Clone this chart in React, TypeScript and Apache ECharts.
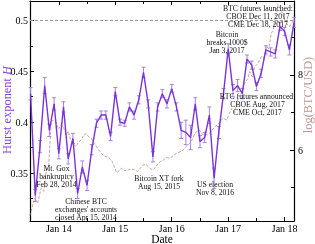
import React, { useEffect, useRef } from "react";
import * as echarts from "echarts";

// Hurst exponent, monthly from Jul 2013 to Mar 2018
const hurstStart = [2013, 7];
const hurstValues = [
  0.428, 0.328, 0.376, 0.436, 0.392, 0.418, 0.369, 0.415, 0.364, 0.384,
  0.330, 0.356, 0.338, 0.373, 0.399, 0.407, 0.407, 0.386, 0.430, 0.400,
  0.399, 0.415, 0.407, 0.422, 0.449, 0.418, 0.366, 0.415, 0.428, 0.418,
  0.433, 0.415, 0.392, 0.390, 0.385, 0.418, 0.381, 0.385, 0.407, 0.345,
  0.390, 0.428, 0.472, 0.431, 0.436, 0.428, 0.462, 0.456, 0.435, 0.448,
  0.471, 0.469, 0.467, 0.494, 0.489, 0.471, 0.498,
];
const hurstErr = [
  0.006, 0.006, 0.006, 0.008, 0.006, 0.006, 0.005, 0.005, 0.005, 0.005,
  0.005, 0.006, 0.005, 0.005, 0.004, 0.004, 0.004, 0.004, 0.004, 0.003,
  0.003, 0.004, 0.004, 0.004, 0.005, 0.004, 0.005, 0.004, 0.004, 0.004,
  0.004, 0.004, 0.008, 0.012, 0.012, 0.006, 0.006, 0.005, 0.008, 0.010,
  0.006, 0.005, 0.005, 0.006, 0.006, 0.005, 0.004, 0.004, 0.004, 0.004,
  0.004, 0.004, 0.004, 0.004, 0.004, 0.005, 0.005,
];

// log(BTC/USD) (decimal year, value)
const btcTime = [
  2013.487, 2013.570, 2013.628, 2013.687, 2013.735, 2013.775, 2013.823, 2013.864, 2013.894, 2013.952,
  2013.991, 2014.041, 2014.080, 2014.129, 2014.168, 2014.218, 2014.265, 2014.306, 2014.345, 2014.395,
  2014.442, 2014.483, 2014.531, 2014.579, 2014.619, 2014.667, 2014.708, 2014.756, 2014.796, 2014.844,
  2014.885, 2014.933, 2014.973, 2015.021, 2015.050, 2015.110, 2015.168, 2015.227, 2015.283, 2015.345,
  2015.398, 2015.434, 2015.492, 2015.540, 2015.581, 2015.628, 2015.669, 2015.717, 2015.758, 2015.805,
  2015.846, 2015.903, 2015.965, 2016.027, 2016.083, 2016.142, 2016.200, 2016.257, 2016.319, 2016.372,
  2016.407, 2016.451, 2016.496, 2016.540, 2016.584, 2016.637, 2016.673, 2016.761, 2016.832, 2016.908,
  2016.973, 2017.057, 2017.115, 2017.173, 2017.230, 2017.292, 2017.345, 2017.381, 2017.425, 2017.469,
  2017.522, 2017.588, 2017.628, 2017.676, 2017.717, 2017.765, 2017.796, 2017.823, 2017.858, 2017.881,
  2017.912, 2017.942, 2017.970, 2018.000, 2018.044, 2018.088, 2018.133, 2018.159,
];
const btcLog = [
  4.25, 4.71, 4.60, 4.98, 4.90, 5.42, 5.60, 6.75, 6.80, 6.75,
  6.55, 6.67, 6.62, 6.40, 6.50, 6.22, 6.15, 6.09, 6.20, 6.27,
  6.40, 6.44, 6.35, 6.31, 6.20, 6.09, 6.00, 5.91, 5.85, 5.82,
  5.80, 5.73, 5.60, 5.40, 5.42, 5.52, 5.45, 5.47, 5.50, 5.47,
  5.43, 5.50, 5.60, 5.62, 5.56, 5.50, 5.47, 5.55, 5.64, 5.70,
  5.73, 5.80, 5.78, 5.85, 5.91, 5.95, 6.00, 6.10, 6.18, 6.30,
  6.44, 6.50, 6.53, 6.42, 6.44, 6.40, 6.45, 6.62, 6.70, 6.85,
  6.80, 7.10, 7.00, 7.38, 7.50, 7.78, 7.90, 8.09, 7.95, 8.22,
  8.30, 8.49, 8.45, 8.76, 8.70, 9.11, 9.20, 9.47, 9.70, 9.87,
  9.80, 9.73, 9.60, 9.47, 9.35, 9.29, 9.40, 9.47,
];

const xMajorTicks = [2014, 2015, 2016, 2017, 2018];
const xMinorTicks = [2013.5, 2014.5, 2015.5, 2016.5, 2017.5];
const hMajorTicks = [0.35, 0.4, 0.45, 0.5];
const hMinorTicks = [0.325, 0.375, 0.425, 0.475];
const logMajorTicks = [6, 8];
const logMinorTicks = [5, 7, 9];

const annotations = [
  { text: "Mt. Gox\nbankruptcy\nFeb 28, 2014", x: 56.5, y: 164.5 },
  { text: "Chinese BTC\nexchanges' accounts\nclosed Apr 15, 2014", x: 86, y: 197.5 },
  { text: "Bitcoin XT fork\nAug 15, 2015", x: 159, y: 174.5 },
  { text: "US election\nNov 8, 2016", x: 215, y: 180.5 },
  { text: "Bitcoin\nbreaks 1000$\nJan 3, 2017", x: 227, y: 30.5 },
  { text: "BTC futures announced:\nCBOE Aug, 2017\nCME Oct, 2017", x: 257.5, y: 92.5 },
  { text: "BTC futures launched:\nCBOE Dec 11, 2017\nCME Dec 18, 2017", x: 258, y: 4.3 },
];

const SERIF = "Liberation Serif";
const PURPLE = "#7a33d9";
const PURPLE_ERR = "#a882e6";
const BROWN = "rgba(170,115,105,0.65)";

export default function App() {
  const ref = useRef<HTMLDivElement>(null);
  useEffect(() => {
    if (!ref.current) return;
    const chart = echarts.init(ref.current, undefined, { renderer: "svg" });
    const hurstData = hurstValues.map((v, i) => {
      const m = hurstStart[1] - 1 + i;
      const t = hurstStart[0] + m / 12;
      return [t, v, hurstErr[i]];
    });
    const btcData = btcTime.map((t, i) => [t, btcLog[i]]);
    const xMin = 2013.49;
    const xMax = 2018.165;
    const axisLine = { show: true, onZero: false, lineStyle: { color: "#000", width: 1.2 } };
    const mkX = (pos: string, ticks: number[], len: number, labels: boolean, line: boolean) => ({
      type: "value",
      min: xMin,
      max: xMax,
      position: pos,
      axisLine: line ? axisLine : { show: false },
      axisTick: { show: true, inside: true, length: len, customValues: ticks, lineStyle: { color: "#000", width: 1 } },
      axisLabel: labels
        ? {
            show: true,
            customValues: ticks,
            formatter: (v: number) => "Jan " + String(Math.round(v)).slice(2),
            fontFamily: SERIF,
            fontSize: 10,
            color: "#000",
            margin: 2,
          }
        : { show: false },
      splitLine: { show: false },
    });
    const mkY = (pos: string, min: number, max: number, ticks: number[], len: number, labels: boolean, line: boolean) => ({
      type: "value",
      min,
      max,
      position: pos,
      axisLine: line ? axisLine : { show: false },
      axisTick: { show: true, inside: true, length: len, customValues: ticks, lineStyle: { color: "#000", width: 1 } },
      axisLabel: labels
        ? {
            show: true,
            customValues: ticks,
            formatter: (v: number) => String(+v.toFixed(3)),
            fontFamily: SERIF,
            fontSize: 10,
            color: "#000",
            margin: pos === "left" ? 2 : 4,
          }
        : { show: false },
      splitLine: { show: false },
    });
    chart.setOption({
      animation: false,
      grid: { left: 30, right: 21, top: 1, bottom: 23, containLabel: false },
      xAxis: [
        mkX("bottom", xMajorTicks, 4, true, true),
        mkX("bottom", xMinorTicks, 3, false, false),
        mkX("top", xMajorTicks, 4, false, true),
        mkX("top", xMinorTicks, 3, false, false),
      ],
      yAxis: [
        mkY("left", 0.303, 0.519, hMajorTicks, 4, true, true),
        mkY("right", 4.11, 9.97, logMajorTicks, 4, true, true),
        mkY("left", 0.303, 0.519, hMinorTicks, 3, false, false),
        mkY("right", 4.11, 9.97, logMinorTicks, 3, false, false),
      ],
      series: [
        {
          type: "line",
          xAxisIndex: 0,
          yAxisIndex: 1,
          data: btcData,
          symbol: "none",
          lineStyle: { color: BROWN, width: 1, type: [3, 1.5] },
          z: 1,
          silent: true,
        },
        {
          type: "custom",
          xAxisIndex: 0,
          yAxisIndex: 0,
          data: hurstData,
          encode: { x: 0, y: 1 },
          z: 2,
          silent: true,
          renderItem: (params: any, api: any) => {
            const x = api.value(0);
            const y = api.value(1);
            const e = api.value(2);
            const top = api.coord([x, y + e]);
            const bot = api.coord([x, y - e]);
            const w = 2;
            const style = { stroke: PURPLE_ERR, lineWidth: 1 };
            return {
              type: "group",
              children: [
                { type: "line", shape: { x1: top[0], y1: top[1], x2: bot[0], y2: bot[1] }, style },
                { type: "line", shape: { x1: top[0] - w, y1: top[1], x2: top[0] + w, y2: top[1] }, style },
                { type: "line", shape: { x1: bot[0] - w, y1: bot[1], x2: bot[0] + w, y2: bot[1] }, style },
              ],
            };
          },
        },
        {
          type: "line",
          xAxisIndex: 0,
          yAxisIndex: 0,
          data: hurstData.map((d) => [d[0], d[1]]),
          symbol: "none",
          lineStyle: { color: PURPLE, width: 1.4 },
          z: 3,
          silent: true,
          markLine: {
            silent: true,
            symbol: "none",
            label: { show: false },
            lineStyle: { color: "#999", width: 1.2, type: [3, 2] },
            data: [{ yAxis: 0.5 }],
          },
        },
      ],
      graphic: [
        ...annotations.map((a) => ({
          type: "text",
          x: a.x,
          y: a.y,
          z: 10,
          silent: true,
          style: {
            text: a.text,
            fontFamily: SERIF,
            fontSize: 7.7,
            lineHeight: 8,
            fill: "#111",
            align: "center",
            verticalAlign: "top",
          },
        })),
        {
          type: "text",
          x: 6.5,
          y: 110,
          rotation: Math.PI / 2,
          silent: true,
          style: {
            text: "{a|Hurst exponent }{b|H}",
            align: "center",
            verticalAlign: "middle",
            fontFamily: SERIF,
            fontSize: 12.4,
            fill: "#8445d8",
            rich: {
              a: { fontFamily: SERIF, fontSize: 12.4, fill: "#8445d8" },
              b: { fontFamily: SERIF, fontSize: 12.4, fontStyle: "italic", fill: "#8445d8" },
            },
          },
        },
        {
          type: "text",
          x: 308,
          y: 95,
          rotation: Math.PI / 2,
          silent: true,
          style: {
            text: "log(BTC/USD)",
            align: "center",
            verticalAlign: "middle",
            fontFamily: SERIF,
            fontSize: 12.4,
            fill: "#c39595",
          },
        },
        {
          type: "text",
          x: 162,
          y: 238.8,
          silent: true,
          style: {
            text: "Date",
            align: "center",
            verticalAlign: "middle",
            fontFamily: SERIF,
            fontSize: 11.5,
            fill: "#000",
          },
        },
      ],
    });
    return () => chart.dispose();
  }, []);
  return <div ref={ref} style={{ position: "fixed", left: 0, top: 0, width: 315, height: 244 }} />;
}
